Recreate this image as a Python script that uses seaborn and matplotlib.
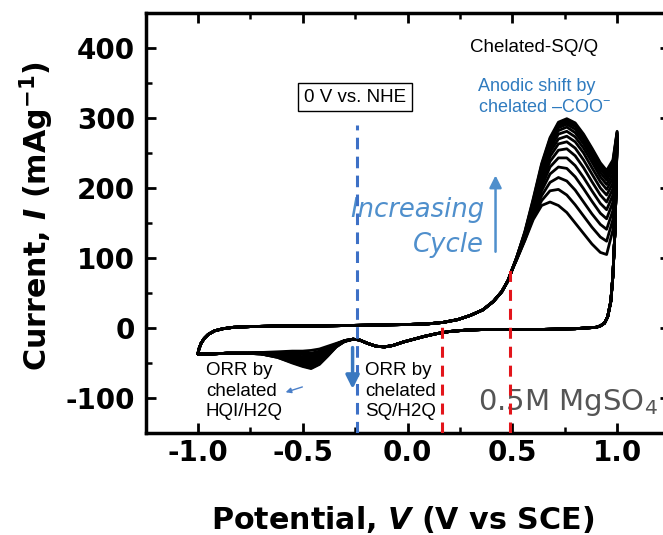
import matplotlib
matplotlib.use("Agg")
import matplotlib.pyplot as plt
import pandas as pd
import seaborn as sns
from matplotlib.ticker import MultipleLocator

# ---------------------------------------------------------------------------
# Cyclic voltammogram data (potential in V vs SCE, current in mA/g)
# ---------------------------------------------------------------------------
# forward sweep, common to all cycles (-1.0 V -> 0.50 V)
fwd_potential = [-1.0, -0.995, -0.985, -0.97, -0.95, -0.92, -0.88, -0.83, -0.75, -0.6,
                 -0.4, -0.2, 0.0, 0.1, 0.17, 0.24, 0.30, 0.36, 0.41, 0.45, 0.48, 0.50]
fwd_current = [-37, -30, -22, -15, -9, -4, -1, 1, 2, 3,
               3, 4, 5, 6, 8, 12, 18, 26, 38, 52, 68, 84]

# anodic SQ/Q wave, one row per cycle (cycle 1 -> cycle 14)
anodic_potential = [0.52, 0.56, 0.60, 0.64, 0.68, 0.72, 0.76, 0.80, 0.84, 0.88, 0.92, 0.95, 0.98, 1.0]
anodic_current = [
    [97, 125, 155, 175, 180, 175, 165, 150, 135, 120, 108, 105, 140, 268],
    [97, 126, 158, 182, 196, 198, 190, 176, 160, 144, 130, 124, 155, 269],
    [98, 127, 161, 189, 208, 215, 210, 197, 180, 163, 148, 141, 168, 270],
    [98, 128, 164, 196, 220, 230, 228, 216, 199, 181, 164, 156, 180, 271],
    [98, 129, 167, 202, 230, 243, 243, 232, 215, 196, 178, 169, 190, 272],
    [99, 130, 169, 207, 238, 254, 256, 246, 229, 209, 190, 180, 199, 273],
    [99, 131, 171, 212, 245, 263, 266, 257, 240, 220, 200, 190, 207, 274],
    [99, 132, 173, 216, 251, 270, 274, 266, 250, 229, 209, 198, 214, 275],
    [99, 133, 175, 220, 256, 277, 281, 273, 257, 237, 216, 205, 220, 276],
    [100, 134, 177, 224, 261, 282, 287, 279, 263, 243, 222, 211, 226, 277],
    [100, 135, 179, 227, 265, 286, 291, 284, 268, 248, 227, 216, 230, 278],
    [100, 136, 181, 230, 268, 289, 294, 288, 272, 252, 231, 220, 234, 279],
    [100, 137, 183, 233, 270, 292, 297, 291, 275, 255, 234, 223, 237, 280],
    [100, 138, 185, 235, 272, 294, 299, 293, 277, 257, 236, 225, 240, 281],
]

# reverse sweep right after the 1.0 V vertex
rev_high_potential = [0.995, 0.99, 0.98, 0.97, 0.955, 0.94, 0.92]
rev_high_current = [200, 140, 75, 38, 16, 7, 3]

# reverse sweep, common part down to -0.26 V
rev_mid_potential = [0.9, 0.8, 0.65, 0.5, 0.38, 0.28, 0.2, 0.14, 0.08, 0.03,
                     -0.02, -0.07, -0.11, -0.15, -0.19, -0.23, -0.26]
rev_mid_current = [1, -1, -2, -2, -2, -3, -5, -8, -12, -16,
                   -20, -25, -27, -26, -22, -17, -16]

# ORR wave of the chelated HQI/H2Q couple, one row per cycle
orr_potential = [-0.30, -0.34, -0.38, -0.42, -0.46, -0.50, -0.55, -0.62, -0.70]
orr_current = [
    [-18, -22, -26, -30, -32, -33, -33, -34, -35],
    [-18, -23, -28, -33, -36, -36, -35, -35, -35],
    [-18, -23, -29, -35, -39, -38, -37, -36, -35],
    [-18, -24, -30, -37, -42, -41, -39, -37, -36],
    [-18, -24, -31, -39, -44, -43, -40, -38, -36],
    [-18, -24, -32, -41, -46, -45, -42, -38, -36],
    [-19, -25, -33, -43, -48, -46, -43, -39, -36],
    [-19, -25, -34, -44, -50, -48, -44, -39, -36],
    [-19, -25, -35, -46, -52, -50, -45, -40, -36],
    [-19, -26, -36, -47, -53, -51, -46, -40, -37],
    [-19, -26, -37, -49, -55, -52, -47, -41, -37],
    [-19, -26, -38, -50, -56, -53, -48, -41, -37],
    [-19, -27, -39, -51, -57, -54, -49, -42, -37],
    [-19, -27, -40, -52, -58, -55, -50, -42, -37],
]

# reverse sweep tail back to -1.0 V
rev_low_potential = [-0.78, -0.86, -0.93, -0.98, -1.0]
rev_low_current = [-36, -36, -37, -37, -37]

# reference potentials
nhe_potential = -0.24          # 0 V vs. NHE
nhe_top = 290
marker_potentials = [0.165, 0.49]
marker_tops = [9, 87]

x_ticks = [-1.0, -0.5, 0.0, 0.5, 1.0]
x_tick_labels = ["-1.0", "-0.5", "0.0", "0.5", "1.0"]
y_ticks = [-100, 0, 100, 200, 300, 400]
y_tick_labels = ["-100", "0", "100", "200", "300", "400"]

# ---------------------------------------------------------------------------
frames = []
for cyc, (an, orr) in enumerate(zip(anodic_current, orr_current), start=1):
    v = fwd_potential + anodic_potential + rev_high_potential + rev_mid_potential + orr_potential + rev_low_potential
    i = fwd_current + an + rev_high_current + rev_mid_current + orr + rev_low_current
    frames.append(pd.DataFrame({"potential": v, "current": i, "cycle": cyc}))
cv = pd.concat(frames, ignore_index=True)

sns.set_style("ticks")
plt.rcParams["font.family"] = ["DejaVu Sans"]
plt.rcParams["axes.unicode_minus"] = False
plt.rcParams["mathtext.fontset"] = "custom"
plt.rcParams["mathtext.it"] = "DejaVu Sans:italic:bold"
plt.rcParams["mathtext.default"] = "regular"
plt.rcParams["text.color"] = "black"
plt.rcParams["axes.labelcolor"] = "black"

fig = plt.figure(figsize=(6.63, 5.35), dpi=100)
ax = fig.add_axes([145.5 / 663, 102 / 535, 524 / 663, 420 / 535])

sns.lineplot(data=cv, x="potential", y="current", units="cycle", estimator=None,
             sort=False, color="black", lw=2.0, legend=False, ax=ax, zorder=3)

ax.set_xlim(-1.25, 1.25)
ax.set_ylim(-150, 450)

# reference lines
ax.vlines(nhe_potential, -150, nhe_top, colors="#3d70c6", lw=2.2,
          linestyles=(0, (3.8, 2.4)), zorder=4)
for p, top in zip(marker_potentials, marker_tops):
    ax.vlines(p, -150, top, colors="#e3151b", lw=2.2, linestyles=(0, (3.6, 2.6)), zorder=4)

# axes styling
for side in ["left", "right", "top", "bottom"]:
    ax.spines[side].set_linewidth(2.5)
    ax.spines[side].set_color("black")
ax.set_xticks(x_ticks)
ax.set_xticklabels(x_tick_labels)
ax.set_yticks(y_ticks)
ax.set_yticklabels(y_tick_labels)
ax.xaxis.set_minor_locator(MultipleLocator(0.25))
ax.yaxis.set_minor_locator(MultipleLocator(50))
ax.tick_params(which="both", direction="in", top=True, right=True,
               color="black", labelcolor="black")
ax.tick_params(which="major", length=7, width=2.0, labelsize=20)
ax.tick_params(which="minor", length=4, width=1.8)
ax.tick_params(axis="y", which="major", pad=7.5)
ax.tick_params(axis="x", which="major", pad=4)
for lab in ax.get_xticklabels() + ax.get_yticklabels():
    lab.set_fontweight("bold")

ax.set_xlabel(r"Potential, $\mathit{V}$ (V vs SCE)", fontsize=21.7,
              fontweight="bold", color="black")
ax.set_ylabel(r"Current, $\mathit{I}$ (mAg$^{-1}$)", fontsize=21.7,
              fontweight="bold", color="black")
ax.xaxis.set_label_coords(0.49, -0.168)
ax.yaxis.set_label_coords(-0.17, 0.517)

# annotations
ann = dict(family="Liberation Sans", fontsize=13.5, color="black")
ax.text(0.298, 401, "Chelated-SQ/Q", ha="left", va="center", **ann)
ax.text(0.337, 330, "Anodic shift by\nchelated \u2013COO$^{-}$", ha="left", va="center",
        linespacing=1.25, family="Liberation Sans", fontsize=13, color="#2f7bbf")
ax.text(-0.25, 330, "0 V vs. NHE", ha="center", va="center", zorder=5,
        bbox=dict(boxstyle="square,pad=0.3", fc="white", ec="black", lw=1.0), **ann)
ax.text(-0.962, -90, "ORR by\nchelated\nHQI/H2Q", ha="left", va="center",
        linespacing=1.3, **ann)
ax.text(-0.202, -90, "ORR by\nchelated\nSQ/H2Q", ha="left", va="center",
        linespacing=1.3, **ann)

cyc_color = "#4f8fcc"
ax.text(0.365, 158.6, "Increasing", ha="right", va="baseline", fontsize=18.6,
        style="italic", color=cyc_color, zorder=2)
ax.text(0.365, 108.6, "Cycle", ha="right", va="baseline", fontsize=18.6,
        style="italic", color=cyc_color, zorder=2)
ax.annotate("", xy=(0.42, 222), xytext=(0.42, 105),
            arrowprops=dict(arrowstyle="-|>", color=cyc_color, lw=1.8, mutation_scale=18))

ax.annotate("", xy=(-0.262, -91), xytext=(-0.262, -24),
            arrowprops=dict(arrowstyle="-|>", color="#3a78c0", lw=2.5, mutation_scale=20),
            zorder=5)
ax.annotate("", xy=(-0.594, -93), xytext=(-0.489, -83),
            arrowprops=dict(arrowstyle="-|>", color="#4a7fc8", lw=1.0, mutation_scale=8))

ax.text(0.337, -117, "0.5M MgSO$_4$", ha="left", va="baseline", fontsize=21,
        color="#555555", zorder=2)

fig.savefig("out.png", dpi=100, facecolor="white")
